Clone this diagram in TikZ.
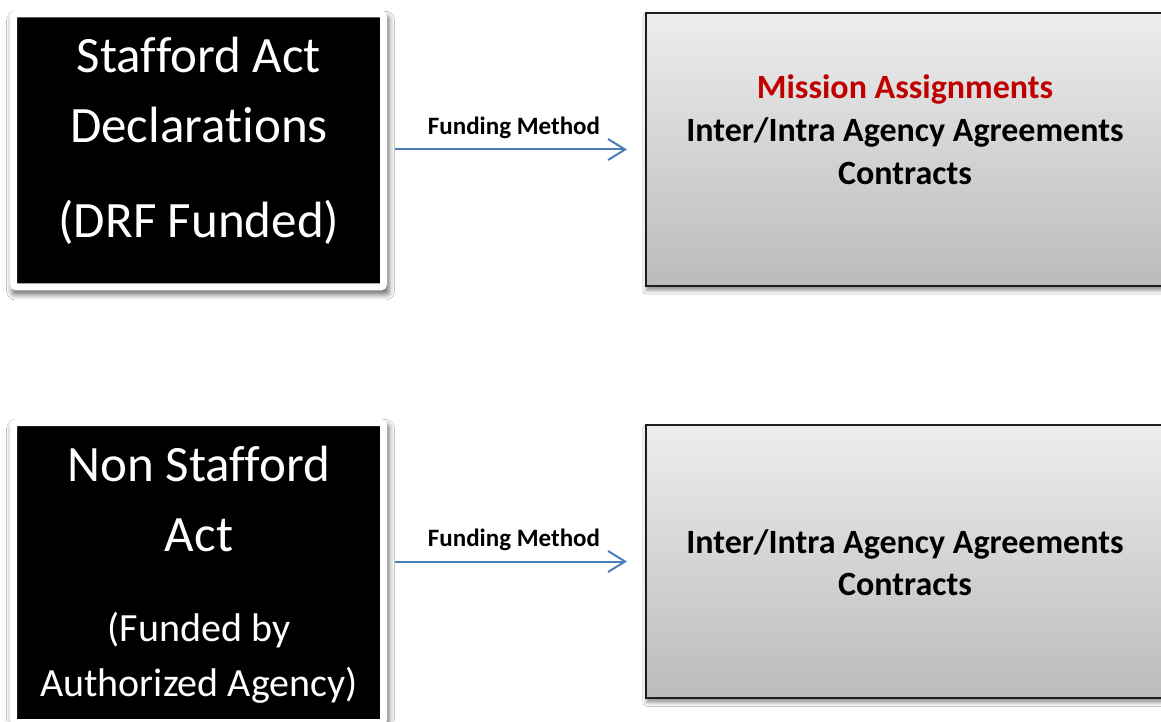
\documentclass[tikz,border=0pt]{standalone}
\usepackage{fontspec}
\setmainfont{Carlito}[Ligatures=NoCommon]
\usepackage{xcolor}
\usepackage{tikz}
\usetikzlibrary{arrows.meta, positioning, calc, shadows.blur}
\definecolor{arrowblue}{HTML}{4A7EBB}
\definecolor{missionred}{HTML}{C00000}
\definecolor{panelrim}{HTML}{1E1E1E}
\definecolor{paneltop}{HTML}{EDEDED}
\definecolor{panelbottom}{HTML}{BBBBBB}

\tikzset{
  actbox/.style={fill=black, draw=white, line width=7pt, rounded corners=3pt, minimum width=370pt, inner sep=0pt,
    blur shadow={shadow xshift=2pt, shadow yshift=-5pt, shadow scale=1.02, shadow blur radius=5pt, shadow opacity=55}},
  methodbox/.style={draw=panelrim, line width=1.6pt, top color=paneltop, bottom color=panelbottom,
    minimum width=519.5pt, minimum height=273.5pt, inner sep=0pt,
    blur shadow={shadow xshift=1pt, shadow yshift=-4pt, shadow blur radius=4pt, shadow opacity=45}},
  acttext/.style={white, anchor=base, font=\fontsize{51}{51}\selectfont},
  actnote/.style={white, anchor=base, font=\fontsize{40}{40}\selectfont},
  methodtext/.style={black, anchor=base, font=\fontsize{34}{34}\selectfont\bfseries},
  fundarrow/.style={arrowblue, line width=2pt, -{Straight Barb[length=17pt, width=21pt]},
    shorten <=8pt, shorten >=18pt},
  fundlabel/.style={black, anchor=base, font=\fontsize{25}{25}\selectfont\bfseries}
}

\begin{document}
\begin{tikzpicture}[x=1pt, y=1pt]
  \useasboundingbox (0,0) rectangle (1161,721);
  \fill[white] (0,0) rectangle (1161,721);
  \clip (0,0) rectangle (1161,721);

  % Left column - the two kinds of declaration
  \node[actbox, minimum height=273pt] (staf) at (198.5,570.5) {};
  \node[actbox, minimum height=300pt] (nonstaf) at (198.5,148.5) {};

  % Right column - funding instruments
  \node[methodbox] (instr) at (905.5,571.5) {};
  \node[methodbox] (instrb) at (905.5,159.5) {};

  % Declaration labels
  \node[acttext] (stafA) at (199,648) {Stafford Act};
  \node[acttext] (stafB) at (199,578) {Declarations};
  \node[acttext] (stafC) at (199,483) {(DRF Funded)};
  \node[acttext] (nonA) at (199,239.3) {Non Stafford};
  \node[acttext] (nonB) at (199,169.3) {Act};
  \node[actnote] (nonC) at (199,80) {(Funded by};
  \node[actnote] (nonD) at (199,24.5) {Authorized Agency)};

  % Instrument labels
  \node[methodtext, missionred] (instrA) at (905,622) {Mission Assignments};
  \node[methodtext] (instrB) at (905,579.3) {Inter/Intra Agency Agreements};
  \node[methodtext] (instrC) at (905,536) {Contracts};
  \node[methodtext] (instrbA) at (905,168) {Inter/Intra Agency Agreements};
  \node[methodtext] (instrbB) at (905,125.3) {Contracts};

  % Funding method arrows
  \draw[fundarrow] (instr.west -| staf.east) -- (instr.west)
    node[fundlabel, midway, xshift=-2pt, yshift=15pt] (fundA) {Funding Method};
  \draw[fundarrow] (instrb.west -| nonstaf.east) -- (instrb.west)
    node[fundlabel, midway, xshift=-2pt, yshift=15pt] (fundB) {Funding Method};
\end{tikzpicture}
\end{document}
